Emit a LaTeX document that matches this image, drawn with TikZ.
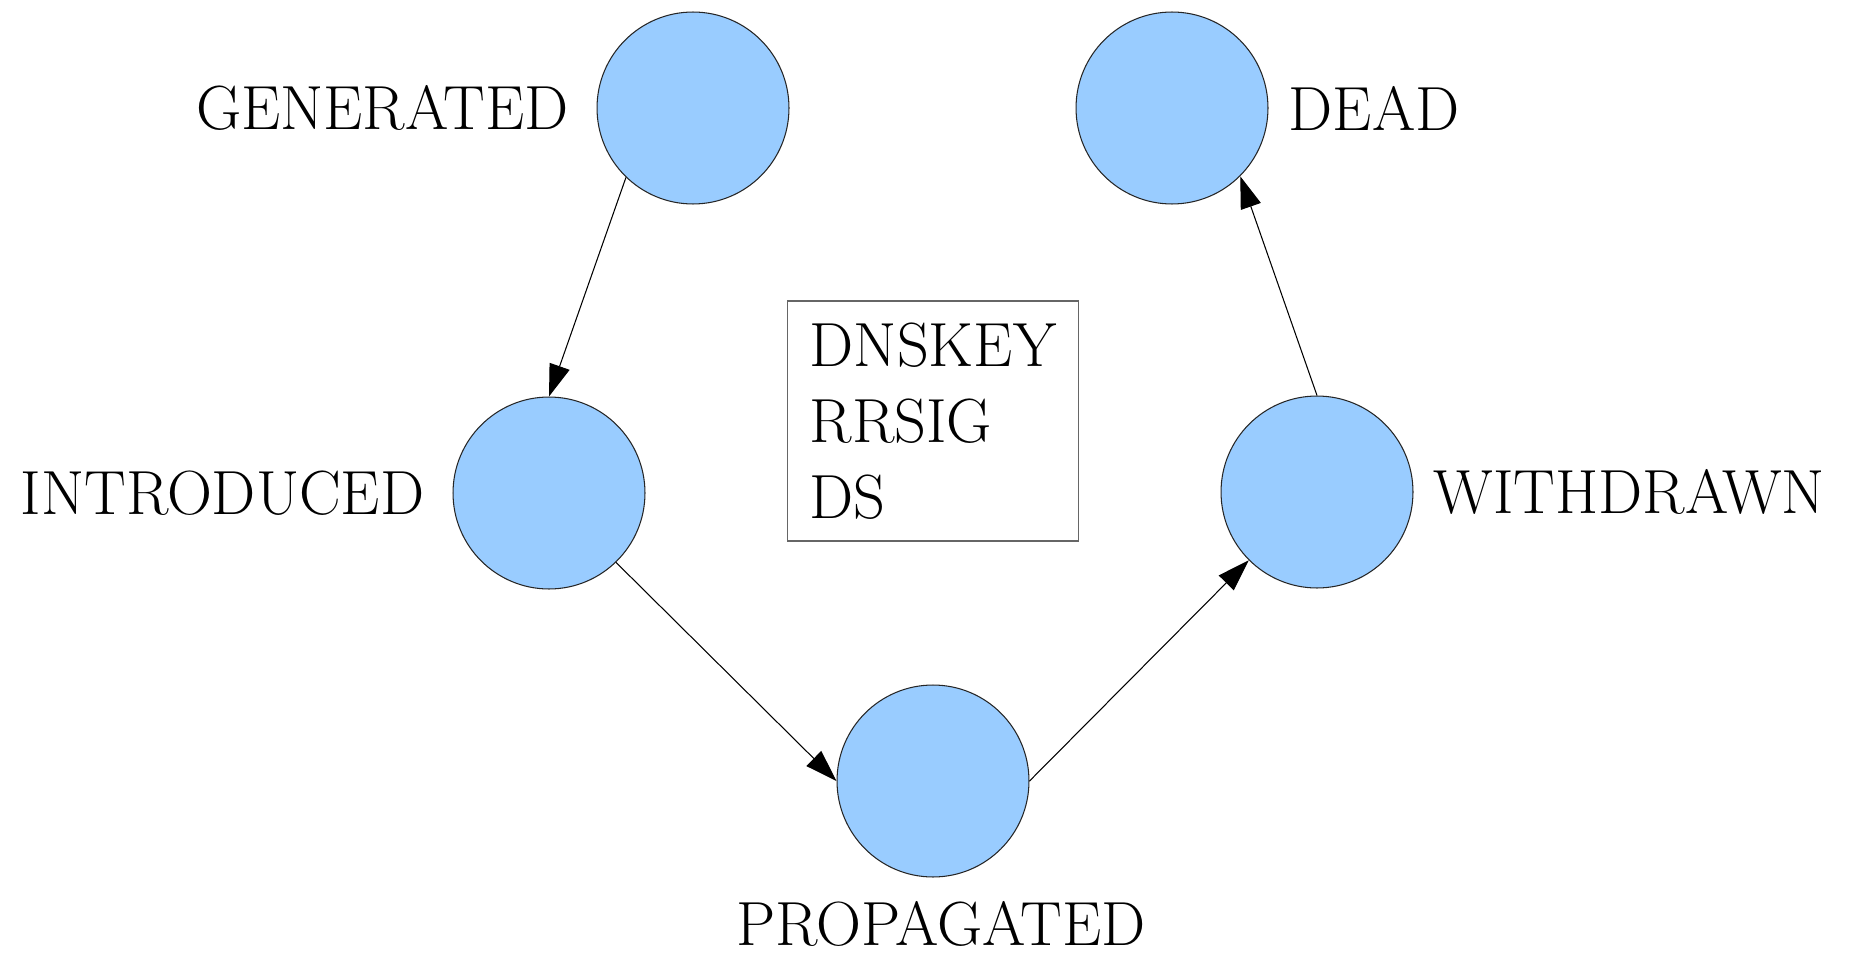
\documentclass[tikz,border=0pt]{standalone}
\usepackage{xcolor}
\usepackage{tikz}
\usetikzlibrary{arrows.meta}
\usetikzlibrary{positioning}
\definecolor{keyblue}{HTML}{99CCFF}
\tikzset{>={Triangle[length=0.64cm, width=0.42cm]}}
\tikzstyle{keystate} = [circle, draw = black!85, fill = keyblue, line width = 0.6pt, minimum size = 3.84cm, inner sep = 0]
\tikzstyle{statename} = [draw = none, inner sep = 0, font = \rmfamily\fontsize{35.5}{43.2}\selectfont]
\tikzstyle{move} = [->, line width = 0.6pt]

\begin{document}
\begin{tikzpicture}[x = 0.02cm, y = -0.02cm]
\useasboundingbox (0, 0) rectangle (1855, 966);
\node [keystate] (gen) at (693, 108) {};
\node [keystate] (intro) at (549, 493) {};
\node [keystate] (prop) at (933, 781) {};
\node [keystate] (wd) at (1317, 492) {};
\node [keystate] (dead) at (1172, 108) {};
\node [statename, left = 0.55cm of gen] (genname) {GENERATED};
\node [statename, left = 0.56cm of intro] (introname) {INTRODUCED};
\node [statename, below = 0.48cm of prop, xshift = 0.16cm] (propname) {PROPAGATED};
\node [statename, right = 0.4cm of wd] (wdname) {WITHDRAWN};
\node [statename, right = 0.4cm of dead] (deadname) {DEAD};
% record types
\node [statename, draw = black!60, line width = 0.6pt, align = left, inner xsep = 0.45cm, minimum height = 4.8cm] (records) at (933, 421) {DNSKEY\\RRSIG\\DS};
\draw [move] (gen.226) to (intro.north);
\draw [move] (intro.-46) to (prop.west);
\draw [move] (prop.east) to (wd.225);
\draw [move] (wd.north) to (dead.-45);
\end{tikzpicture}
\end{document}
